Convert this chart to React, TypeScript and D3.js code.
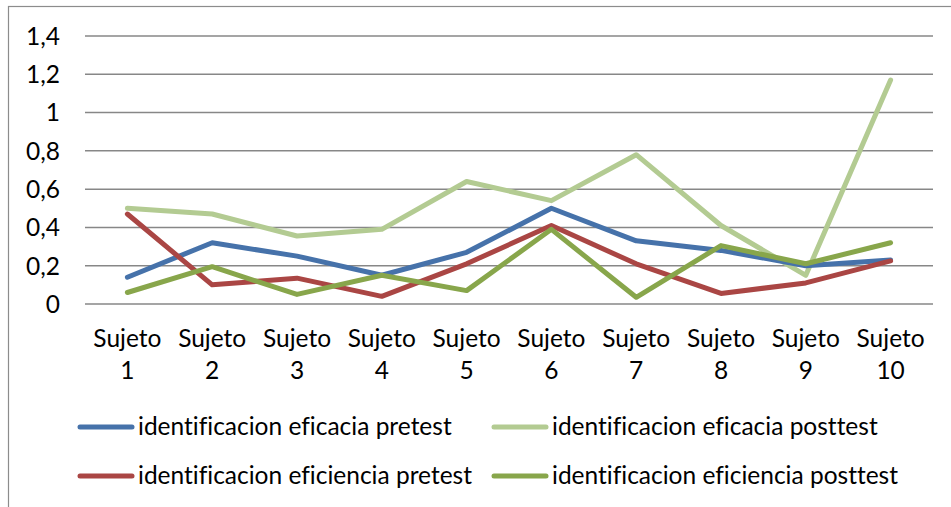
import React, { useRef, useEffect } from 'react';
import * as d3 from 'd3';

const categories = ['Sujeto 1', 'Sujeto 2', 'Sujeto 3', 'Sujeto 4', 'Sujeto 5', 'Sujeto 6', 'Sujeto 7', 'Sujeto 8', 'Sujeto 9', 'Sujeto 10'];
const eficaciaPre = [0.14, 0.32, 0.25, 0.15, 0.27, 0.5, 0.33, 0.28, 0.2, 0.23];
const eficaciaPost = [0.5, 0.47, 0.355, 0.39, 0.64, 0.54, 0.78, 0.41, 0.15, 1.17];
const eficienciaPre = [0.47, 0.1, 0.135, 0.04, 0.21, 0.41, 0.21, 0.055, 0.11, 0.225];
const eficienciaPost = [0.06, 0.195, 0.05, 0.15, 0.07, 0.39, 0.035, 0.305, 0.21, 0.32];
const yTicks = [0, 0.2, 0.4, 0.6, 0.8, 1, 1.2, 1.4];

const series = [
  { name: 'identificacion eficacia pretest', values: eficaciaPre, color: '#4672AA' },
  { name: 'identificacion eficacia posttest', values: eficaciaPost, color: '#B3CB92' },
  { name: 'identificacion eficiencia pretest', values: eficienciaPre, color: '#AA4644' },
  { name: 'identificacion eficiencia posttest', values: eficienciaPost, color: '#88A64B' },
];

const App = () => {
  const svgRef = useRef(null);
  const width = 951;
  const height = 507;
  const margin = { top: 36, left: 85, right: 18, bottom: 203 };
  const font = 'Lato, "Open Sans", sans-serif';
  const fontSize = 24.5;

  useEffect(() => {
    const svg = d3.select(svgRef.current);
    svg.selectAll('*').remove();

    // chart border
    svg.append('rect')
      .attr('x', 8.5).attr('y', 6.5)
      .attr('width', 960).attr('height', 520)
      .attr('fill', 'white')
      .attr('stroke', '#8c8c8c')
      .attr('stroke-width', 1.2);

    const x = d3.scaleBand()
      .domain(categories)
      .range([margin.left, width - margin.right]);

    const y = d3.scaleLinear()
      .domain([0, 1.4])
      .range([height - margin.bottom, margin.top]);

    // gridlines
    svg.append('g')
      .selectAll('line')
      .data(yTicks)
      .enter()
      .append('line')
      .attr('x1', margin.left)
      .attr('x2', width - margin.right)
      .attr('y1', d => y(d))
      .attr('y2', d => y(d))
      .attr('stroke', '#878787')
      .attr('stroke-width', 1.5);

    const txt = (sel: any) => sel
      .attr('font-family', font)
      .attr('font-size', fontSize)
      .attr('fill', '#000')
      .style('font-variant-ligatures', 'none')
      .style('font-feature-settings', '"liga" 0, "clig" 0');

    // y labels
    svg.append('g')
      .selectAll('text')
      .data(yTicks)
      .enter()
      .append('text')
      .attr('x', 60)
      .attr('y', d => y(d))
      .attr('dy', '0.36em')
      .attr('text-anchor', 'end')
      .call(txt)
      .text(d => String(d).replace('.', ','));

    // x labels
    const xl = svg.append('g')
      .selectAll('text')
      .data(categories)
      .enter()
      .append('text')
      .attr('text-anchor', 'middle')
      .call(txt);
    xl.append('tspan')
      .attr('x', d => (x(d) as number) + x.bandwidth() / 2)
      .attr('y', 347)
      .text(d => d.split(' ')[0]);
    xl.append('tspan')
      .attr('x', d => (x(d) as number) + x.bandwidth() / 2)
      .attr('y', 379)
      .text(d => d.split(' ')[1]);

    // lines
    const line = d3.line<number>()
      .x((_, i) => (x(categories[i]) as number) + x.bandwidth() / 2)
      .y(d => y(d));

    const drawOrder = [1, 0, 2, 3];
    drawOrder.forEach(k => {
      const s = series[k];
      svg.append('path')
        .attr('d', line(s.values))
        .attr('fill', 'none')
        .attr('stroke', s.color)
        .attr('stroke-width', 5)
        .attr('stroke-linejoin', 'round')
        .attr('stroke-linecap', 'round');
    });

    // legend
    const legendPos = [
      { x: 80, y: 427 },
      { x: 494, y: 427 },
      { x: 80, y: 476 },
      { x: 494, y: 476 },
    ];
    series.forEach((s, i) => {
      const p = legendPos[i];
      svg.append('line')
        .attr('x1', p.x).attr('x2', p.x + 52)
        .attr('y1', p.y).attr('y2', p.y)
        .attr('stroke', s.color)
        .attr('stroke-width', 5)
        .attr('stroke-linecap', 'round');
      svg.append('text')
        .attr('x', p.x + 58)
        .attr('y', p.y + 8)
        .call(txt)
        .text(s.name);
    });
  }, []);

  return (
    <svg
      ref={svgRef}
      width={width}
      height={height}
      style={{ position: 'absolute', left: 0, top: 0, background: 'white' }}
    ></svg>
  );
};

export default App;
